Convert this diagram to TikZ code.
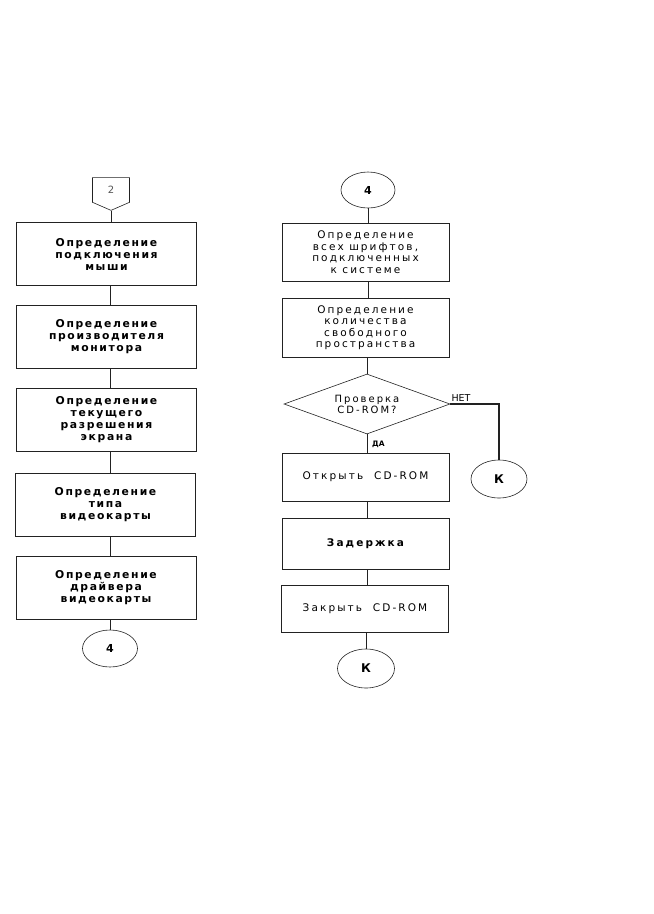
\documentclass[tikz,border=0pt]{standalone}
\usepackage{fontspec}
\setmainfont{DejaVu Sans}
\newfontfamily\boldsp{DejaVu Sans}[LetterSpace=15]
\newfontfamily\regsp{DejaVu Sans}[LetterSpace=20]
\usetikzlibrary{shapes.geometric,shapes.symbols,positioning}
\definecolor{InkGray}{HTML}{222222}
\definecolor{SoftGray}{HTML}{555555}

\begin{document}
\begin{tikzpicture}[x=1pt,y=-1pt,
    lbox/.style={draw=InkGray,line width=0.9pt,minimum width=180,minimum height=63,inner sep=0,align=center,font=\boldsp\bfseries\fontsize{10.8}{12}\selectfont},
    rbox/.style={draw=InkGray,line width=0.9pt,minimum width=167,inner sep=0,align=center,font=\regsp\fontsize{10.5}{11.5}\selectfont},
    term/.style={draw=InkGray,ellipse,line width=0.6pt,inner sep=0,font=\bfseries\fontsize{11}{12}\selectfont},
    link/.style={draw=InkGray,line width=0.9pt},
    lbl/.style={inner sep=0,font=\fontsize{9.5}{11}\selectfont}]
    \useasboundingbox (0,0) rectangle (654,914);
    \coordinate (axL) at (110,0);
    \coordinate (axR) at (368,0);
    % left column
    \node[draw=InkGray,signal,signal to=south,signal pointer angle=133,minimum width=37,minimum height=26,inner sep=0,line width=0.6pt,text=SoftGray,font=\fontsize{10}{12}\selectfont] (p2) at (111,190) {2};
    \node[lbox] (b1) at (106.5,254) {Определение\\подключения\\мыши};
    \node[lbox] (b2) at (106.5,337) {Определение\\производителя\\монитора};
    \node[lbox] (b3) at (106.5,419.5) {Определение\\текущего\\разрешения\\экрана};
    \node[lbox] (b4) at (105.5,504.5) {Определение\\типа\\видеокарты};
    \node[lbox] (b5) at (106,588) {Определение\\драйвера\\видеокарты};
    \node[term,minimum width=55,minimum height=37] (e4L) at (110,648.5) {4};
    \draw[link] (p2.south) -- (p2.south |- b1.north);
    \draw[link] (b1.south -| axL) -- (b2.north -| axL);
    \draw[link] (b2.south -| axL) -- (b3.north -| axL);
    \draw[link] (b3.south -| axL) -- (b4.north -| axL);
    \draw[link] (b4.south -| axL) -- (b5.north -| axL);
    \draw[link] (b5.south -| axL) -- (e4L.north);
    % right column
    \node[term,minimum width=54,minimum height=36] (e4R) at (368,190) {4};
    \node[rbox,minimum height=58] (r1) at (365.5,252) {Определение\\всех шрифтов,\\подключенных\\к системе};
    \node[rbox,minimum height=59] (r2) at (365.5,327.5) {Определение\\количества\\свободного\\пространства};
    \node[draw=InkGray,diamond,aspect=2.77,line width=0.6pt,minimum width=166,minimum height=60,inner sep=0,align=center,font=\regsp\fontsize{10}{11}\selectfont] (dia) at (367,404) {Проверка\\CD-ROM?};
    \node[rbox,minimum height=48] (r3) at (365.5,477) {Открыть\ \ CD-ROM};
    \node[rbox,minimum height=51,font=\regsp\bfseries\fontsize{10.5}{11.5}\selectfont] (r4) at (365.5,543.5) {Задержка};
    \node[rbox,minimum height=47] (r5) at (365,608.5) {Закрыть\ \ CD-ROM};
    \node[term,minimum width=56,minimum height=38,font=\bfseries\fontsize{12}{14}\selectfont] (kR) at (499,479) {К};
    \node[term,minimum width=57,minimum height=39,font=\bfseries\fontsize{12}{14}\selectfont] (kB) at (366,668.5) {К};
    \node[lbl,anchor=south west,xshift=1,yshift=2.5] (net) at (dia.east) {НЕТ};
    \node[lbl,anchor=north west,xshift=5,yshift=-7,font=\bfseries\fontsize{7.5}{9}\selectfont] (da) at (dia.south) {ДА};
    \draw[link] (e4R.south) -- (e4R.south |- r1.north);
    \draw[link] (r1.south -| axR) -- (r2.north -| axR);
    \draw[link] (r2.south -| dia.north) -- (dia.north);
    \draw[link] (dia.south) -- (dia.south |- r3.north);
    \draw[link] (r3.south -| dia.south) -- (r4.north -| dia.south);
    \draw[link] (r4.south -| dia.south) -- (r5.north -| dia.south);
    \draw[link] (r5.south -| kB) -- (kB.north);
    \draw[InkGray,line width=2.6pt] (dia.east) -| (kR.north);
\end{tikzpicture}
\end{document}
